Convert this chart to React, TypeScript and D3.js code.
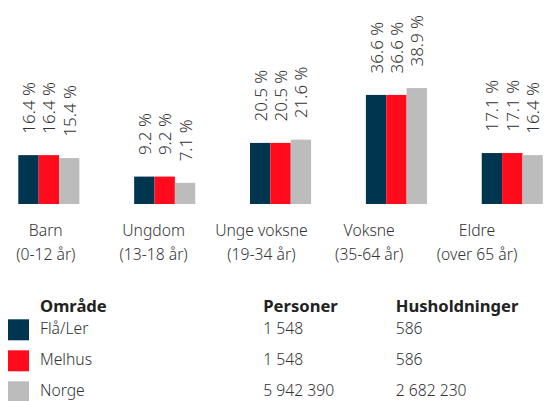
import React, { useEffect, useRef } from "react";
import * as d3 from "d3";

const categories = ["Barn", "Ungdom", "Unge voksne", "Voksne", "Eldre"];
const categorySub = ["(0-12 år)", "(13-18 år)", "(19-34 år)", "(35-64 år)", "(over 65 år)"];
const series = ["Flå/Ler", "Melhus", "Norge"];
const flaLer = [16.4, 9.2, 20.5, 36.6, 17.1];
const melhus = [16.4, 9.2, 20.5, 36.6, 17.1];
const norge = [15.4, 7.1, 21.6, 38.9, 16.4];
const personer = ["1 548", "1 548", "5 942 390"];
const husholdninger = ["586", "586", "2 682 230"];
const colors = ["#003550", "#ff0b1b", "#bcbcbc"];

function App() {
  const svgRef = useRef<SVGSVGElement>(null);

  useEffect(() => {
    const width = 560;
    const height = 401;
    const font = "'Noto Sans', sans-serif";
    const textColor = "#333";
    const values = [flaLer, melhus, norge];

    const svg = d3.select(svgRef.current);
    svg.selectAll("*").remove();
    svg.attr("width", width).attr("height", height);

    const x = d3.scaleBand<string>()
      .domain(categories)
      .range([18.3, 542.8])
      .paddingInner(0.473)
      .paddingOuter(0);
    const xInner = d3.scaleBand<string>()
      .domain(series)
      .range([0, x.bandwidth()]);
    const y = d3.scaleLinear().domain([0, 40]).range([204, 84.8]);

    const groups = svg.append("g")
      .selectAll("g")
      .data(categories)
      .enter().append("g")
      .attr("transform", d => `translate(${x(d)},0)`);

    series.forEach((s, si) => {
      groups.append("rect")
        .attr("x", xInner(s)!)
        .attr("y", (d, i) => y(values[si][i]))
        .attr("width", xInner.bandwidth())
        .attr("height", (d, i) => y(0) - y(values[si][i]))
        .attr("fill", colors[si]);

      groups.append("text")
        .attr("transform", (d, i) =>
          `translate(${xInner(s)! + xInner.bandwidth() / 2},${y(values[si][i]) - 21.5}) rotate(-90)`)
        .attr("dominant-baseline", "central")
        .attr("text-anchor", "start")
        .style("font-family", font)
        .style("font-size", "17px")
        .style("font-weight", 300)
        .attr("fill", textColor)
        .text((d, i) => `${values[si][i].toFixed(1)} %`);
    });

    // category labels sit on their own even spacing
    const xl = d3.scalePoint<string>().domain(categories).range([45.8, 477]);
    const labels = svg.append("g")
      .selectAll("text")
      .data(categories)
      .enter().append("text")
      .attr("text-anchor", "middle")
      .style("font-family", font)
      .style("font-size", "15.7px")
      .style("font-weight", 300)
      .attr("fill", textColor);
    labels.append("tspan")
      .attr("x", d => xl(d)!)
      .attr("y", 235.5)
      .text(d => d);
    labels.append("tspan")
      .attr("x", d => xl(d)!)
      .attr("y", 259.5)
      .text((d, i) => categorySub[i]);

    // legend table
    const cols = [40, 263.3, 395.7];
    const headers = ["Område", "Personer", "Husholdninger"];
    svg.append("g")
      .selectAll("text")
      .data(headers)
      .enter().append("text")
      .attr("x", (d, i) => cols[i])
      .attr("y", 311.7)
      .style("font-family", font)
      .style("font-size", "16.6px")
      .style("font-weight", "bold")
      .attr("fill", "#222")
      .text(d => d);

    const rowY = d3.scalePoint<string>().domain(series).range([334, 396]);
    const rows = svg.append("g")
      .selectAll("g")
      .data(series)
      .enter().append("g");
    rows.append("rect")
      .attr("x", 8)
      .attr("y", d => rowY(d)! - 14.7)
      .attr("width", 21)
      .attr("height", 21)
      .attr("fill", (d, i) => colors[i]);
    const rowText = [series, personer, husholdninger];
    rowText.forEach((col, ci) => {
      rows.append("text")
        .attr("x", cols[ci])
        .attr("y", d => rowY(d)!)
        .style("font-family", font)
        .style("font-size", "15.7px")
        .style("font-weight", 300)
        .attr("fill", textColor)
        .text((d, i) => col[i]);
    });
  }, []);

  return (
    <svg ref={svgRef} style={{ position: "absolute", left: 0, top: 0 }}></svg>
  );
}

export default App;
